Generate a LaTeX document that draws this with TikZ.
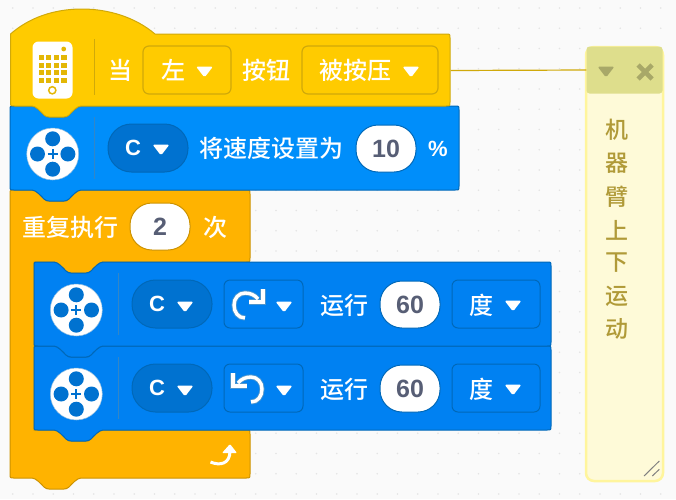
\documentclass[tikz,border=0pt]{standalone}
\usepackage{fontspec}
\setmainfont{Liberation Sans}
\newfontfamily\cjk{Noto Sans CJK SC Medium}
\newfontfamily\notecjk{Noto Sans CJK SC}
\newfontfamily\medf{Liberation Sans}[UprightFont=*-Bold]
\definecolor{bgc}{HTML}{FAFAFA}
\definecolor{dotc}{HTML}{E4E4E4}
\definecolor{hatc}{HTML}{FFCB00}
\definecolor{hatl}{HTML}{D0A90A}
\definecolor{bluea}{HTML}{008EFA}
\definecolor{blueb}{HTML}{0081F2}
\definecolor{bluel}{HTML}{0068B8}
\definecolor{darkb}{HTML}{0072D0}
\definecolor{orangec}{HTML}{FFB300}
\definecolor{orangel}{HTML}{CC9200}
\definecolor{numc}{HTML}{575E75}
\definecolor{notehd}{HTML}{DEDE8C}
\definecolor{notebd}{HTML}{FEFAD8}
\definecolor{notel}{HTML}{FFF59D}
\definecolor{notet}{HTML}{B09A38}
\definecolor{noteic}{HTML}{A8A868}
\newcommand\tri[3]{\fill[#3,rounded corners=1.6] (#1-8.5,#2-5.5) -- (#1+8.5,#2-5.5) -- (#1,#2+5.5) -- cycle;}
\newcommand\motor[3]{%
  \node[motorface] (#1) at (#2,#3) {};
  \foreach \dx/\dy in {0/-15.2,0/15.2,-15.2/0,15.2/0}{\fill[darkb] (#2+\dx,#3+\dy) circle (7.5);}
  \draw[darkb,line width=1.9] (#2-5,#3) -- (#2+5,#3) (#2,#3-5) -- (#2,#3+5);
}
\newcommand\turn[3]{% x, y, mirror
  \begin{scope}[shift={(#1,#2)},xscale=#3]
    \foreach \c/\w in {bluel!70/5.2,white/3.4}{
    \draw[\c,line width=\w] (-3,13) .. controls (-10,13) and (-14,7) .. (-14,0) .. controls (-14,-7) and (-9,-12) .. (-3,-12) .. controls (2,-12) and (7,-10) .. (10,-6);
    \draw[\c,line width=\w,line join=miter] (15,-16) -- (15,-3) -- (1,-3);}
  \end{scope}
}
\tikzset{
  x=1pt,y=-1pt,
  bumpL/.style={insert path={.. controls +(-4,0) and +(3,-3) .. ++(-12,9) .. controls +(-2,1.5) and +(2,0) .. ++(-5,2) -- ++(-15,0) .. controls +(-2,0) and +(2,1.5) .. ++(-5,-2) .. controls +(-3,-3) and +(4,0) .. ++(-12,-9)}},
  bumpR/.style={insert path={.. controls +(4,0) and +(-3,-3) .. ++(12,9) .. controls +(2,1.5) and +(-2,0) .. ++(5,2) -- ++(15,0) .. controls +(2,0) and +(-2,1.5) .. ++(5,-2) .. controls +(3,-3) and +(-4,0) .. ++(12,-9)}},
  crTR/.style 2 args={insert path={-- (#1-4,#2) .. controls (#1,#2) .. (#1,#2+4)}},
  crBR/.style 2 args={insert path={-- (#1,#2-4) .. controls (#1,#2) .. (#1-4,#2)}},
  crBL/.style 2 args={insert path={-- (#1+4,#2) .. controls (#1,#2) .. (#1,#2-4)}},
  blockhat/.style={fill=hatc,draw=hatl,line width=1},
  blocka/.style={fill=bluea,draw=bluel,line width=1},
  blockb/.style={fill=blueb,draw=bluel,line width=1},
  blocko/.style={fill=orangec,draw=orangel,line width=1},
  sep/.style={line width=0.8},
  label/.style={text=white,inner sep=0,font=\cjk\fontsize{24}{24}\selectfont},
  latin/.style={text=white,inner sep=0,font=\medf\fontsize{22}{22}\selectfont},
  num/.style={text=numc,font=\medf\fontsize{25}{25}\selectfont},
  numpill/.style={rounded corners=22,fill=white,minimum width=60,minimum height=47,inner sep=0,line width=1},
  ddhat/.style={rounded corners=6,draw=hatl,line width=1.2,minimum height=48,inner sep=0},
  ddblue/.style={rounded corners=6,draw=bluel,line width=1,minimum height=48,inner sep=0},
  cpill/.style={rounded corners=23.5,fill=darkb,draw=bluel,line width=1,minimum width=80,minimum height=48,inner sep=0},
  motorface/.style={circle,fill=white,draw=bluel!45,line width=0.5,minimum size=52,inner sep=0},
  notetext/.style={text=notet,inner sep=0,font=\cjk\fontsize{23}{23}\selectfont},
}
\begin{document}
\begin{tikzpicture}
\useasboundingbox (0,0) rectangle (676,499);
\fill[bgc] (0,0) rectangle (676,499);
\foreach \i in {0,...,32}{\foreach \j in {0,...,24}{
  \fill[dotc] (12.7+20.25*\i,494-20.25*\j) circle (0.9);}}

% repeat block
\draw[blocko] (10,194) .. controls (10,190) .. (14,190) -- (32,190) [bumpR] [crTR={250}{190}] [crBR={250}{262}] -- (103,262) [bumpL] -- (34,262) -- (34,430) -- (54,430) [bumpR] [crTR={250}{430}] [crBR={250}{478}] -- (81,478) [bumpL] [crBL={10}{478}] -- cycle;
% speed block
\draw[blocka] (10,110) .. controls (10,106) .. (14,106) -- (32,106) [bumpR] [crTR={459}{106}] [crBR={459}{190}] -- (81,190) [bumpL] [crBL={10}{190}] -- cycle;
% hat
\draw[blockhat] (10.5,34) .. controls (30,17) and (55,9) .. (82,9) .. controls (108,9) and (135,17) .. (155,34) [crTR={450}{34}] [crBR={450}{106}] -- (81,106) [bumpL] [crBL={10.5}{106}] -- cycle;
% inner blocks
\draw[blockb] (34,350) .. controls (34,346) .. (38,346) -- (54,346) [bumpR] [crTR={551}{346}] [crBR={551}{430}] -- (103,430) [bumpL] [crBL={34}{430}] -- cycle;
\draw[blockb] (34,266) .. controls (34,262) .. (38,262) -- (54,262) [bumpR] [crTR={551}{262}] [crBR={551}{346}] -- (103,346) [bumpL] [crBL={34}{346}] -- cycle;

% comment
\draw[fill=notebd,draw=notel,line width=2.5,rounded corners=8] (586,47) rectangle (663,481);
\node[fill=notehd,rounded corners=3,minimum width=76,minimum height=47,inner sep=0] (notehead) at (624.5,70) {};
\coordinate (hatright) at (450.5,70.5);
\draw[hatl,line width=1.2] (hatright) -- (notehead.west);
\tri{606}{72}{noteic}
\draw[noteic,line width=4.6] (638,65) -- (652,79) (652,65) -- (638,79);
\foreach \t/\yy in {机/130,器/163,臂/197,上/230,下/263,运/296,动/329}{\node[notetext] at (617,\yy) {\t};}
\draw[gray,line width=1] (644,476) -- (659.3,461) (652.3,476) -- (659.3,469.3);

% phone icon
\node[fill=white,rounded corners=6,minimum width=40,minimum height=57,inner sep=0] (phone) at (52.5,70) {};
\foreach \i in {0,1,2,3}{\foreach \j in {0,1,2,3}{
  \fill[hatl!60!hatc] (38.5+7.55*\i,55+7.5*\j) rectangle ++(5.4,5.4);}}
\fill[hatl!60!hatc] (63.7,49) circle (2.4);
\draw[hatl!60!hatc,line width=1.5] (52.3,90.3) circle (3.6);
\draw[hatl,sep] (94.5,39) -- (94.5,95);

\node[label] (dang) at (120.5,70) {当};
\node[ddhat,minimum width=88] (dirdd) at (187,70) {};
\node[label] (zuo) at (173,70) {左};
\tri{204.5}{72}{white}
\node[label] (anniu) at (266.5,70) {按钮};
\node[ddhat,minimum width=136] (pressdd) at (370,70) {};
\node[label] (press) at (355,70) {被按压};
\tri{411}{72}{white}

% speed block contents
\motor{m1}{52.7}{154}
\draw[bluel!80,sep] (94.5,117) -- (94.5,179);
\node[cpill] (p1) at (148,148) {};
\node[latin] at (133,148) {C};
\tri{161}{150}{white}
\node[label] (setspeed) at (271.5,148) {将速度设置为};
\node[numpill,draw=bluel] (n1) at (386,148.5) {};
\node[num] at (386,149) {10};
\node[latin] at (438,148.5) {\%};

% repeat contents
\node[label] (rep) at (70.5,227) {重复执行};
\node[numpill,draw=orangel] (n2) at (160,226.5) {};
\node[num] at (160,227) {2};
\node[label] (ci) at (215,227) {次};

% inner block 1
\motor{m2}{76.3}{310}
\draw[bluel!80,sep] (118.5,273) -- (118.5,335);
\node[cpill] (p2) at (172,304) {};
\node[latin] at (157,304) {C};
\tri{185}{307}{white}
\node[ddblue,minimum width=79] (rot1) at (263.5,304) {};
\turn{248}{305}{1}
\tri{284}{307}{white}
\node[label] (run1) at (344,305) {运行};
\node[numpill,draw=bluel] (n3) at (410,304.5) {};
\node[num] at (410,305) {60};
\node[ddblue,minimum width=88] (u1) at (496,304) {};
\node[label] (du1) at (481,305) {度};
\tri{513}{306}{white}

% inner block 2
\motor{m3}{76.3}{394}
\draw[bluel!80,sep] (118.5,357) -- (118.5,419);
\node[cpill] (p3) at (172,388) {};
\node[latin] at (157,388) {C};
\tri{185}{391}{white}
\node[ddblue,minimum width=79] (rot2) at (263.5,388) {};
\turn{248}{389}{-1}
\tri{284}{391}{white}
\node[label] (run2) at (344,389) {运行};
\node[numpill,draw=bluel] (n4) at (410,388.5) {};
\node[num] at (410,389) {60};
\node[ddblue,minimum width=88] (u2) at (496,388) {};
\node[label] (du2) at (481,389) {度};
\tri{513}{390}{white}

% loop arrow
\draw[white,line width=3] (210.5,462) .. controls (220,466) and (230,464) .. (230,451);
\fill[white,rounded corners=1] (222,453) -- (230,444) -- (237,453) -- cycle;
\end{tikzpicture}
\end{document}
